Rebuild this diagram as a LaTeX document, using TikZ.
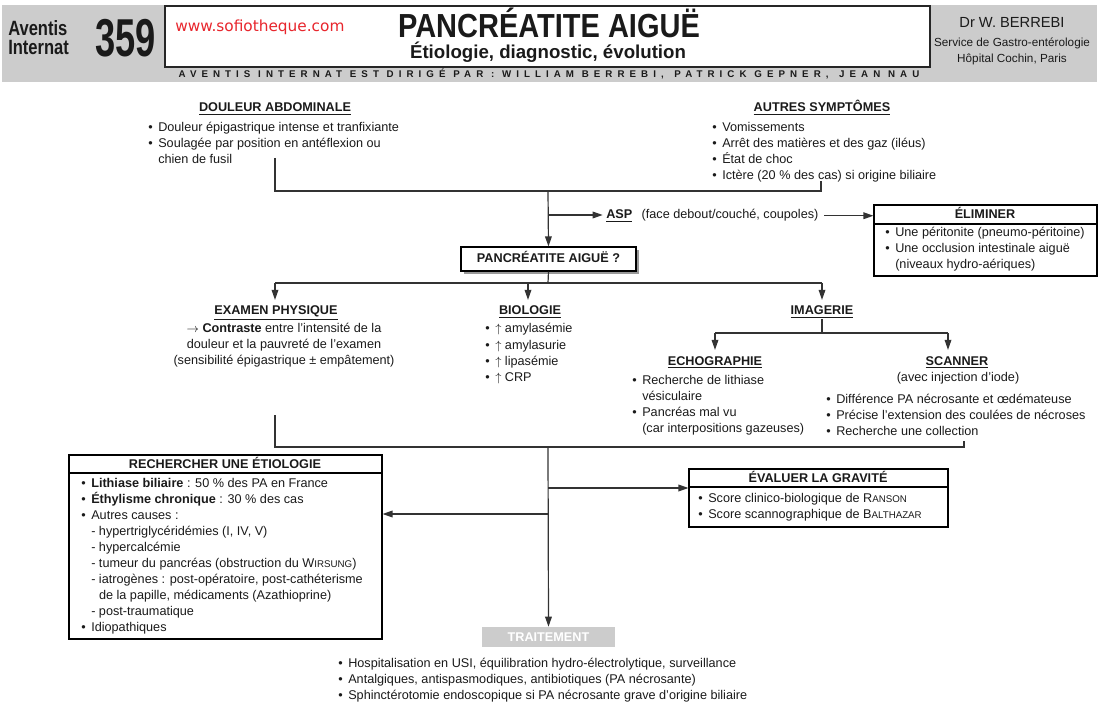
\documentclass[tikz,border=0pt]{standalone}
\usepackage{fontspec}
\setmainfont{Liberation Sans}
\newfontfamily\wwwfont{DejaVu Sans}
\newfontfamily\stripfont[LetterSpace=52]{Liberation Sans}
\usetikzlibrary{arrows.meta,fit,shadows}
\definecolor{hdr}{HTML}{CCCCCC}
\definecolor{ln}{HTML}{333333}
\definecolor{txt}{HTML}{1A1A1A}
\definecolor{wred}{HTML}{E8262D}
\newcommand\bl{\makebox[7.5pt][l]{•}}
\newcommand\ind{\hspace*{7.5pt}}
\newcommand\fsc[2]{#1{\fontsize{7.3}{12}\selectfont #2}}
\begin{document}
\begin{tikzpicture}[x=0.75pt,y=-0.75pt,
  font=\fontsize{9.5}{12}\selectfont,
  every node/.style={inner sep=0pt,text=txt},
  line/.style={draw=ln,line width=0.9pt},
  arr/.style={line,-{Triangle[length=7.5pt,width=5pt]}},
  box/.style={draw=black,line width=0.8pt,inner sep=0pt},
  lst/.style={anchor=base west,align=left},
  hdg/.style={anchor=base,font=\fontsize{9.5}{12}\selectfont\bfseries}]
\useasboundingbox (0,0) rectangle (1103,709);
% ---------- header ----------
\fill[hdr] (2,5) rectangle (1097,82);
\node[fit={(165,6) (930,67)},draw=black!85,fill=white,line width=0.8pt] (titlebox) {};
\node[anchor=base west] (av1) at (8,36) {\scalebox{0.8}[1]{\fontsize{15.5}{16}\selectfont\bfseries Aventis}};
\node[anchor=base west] (av2) at (8,55) {\scalebox{0.8}[1]{\fontsize{15.5}{16}\selectfont\bfseries Internat}};
\node[anchor=base west] (num) at (95,57) {\scalebox{0.68}[1]{\fontsize{40}{40}\selectfont\bfseries 359}};
\node[anchor=base west,text=wred] (www) at (175,32) {\wwwfont\fontsize{11.5}{12}\selectfont www.sofiotheque.com};
\node[anchor=base] (title) at (549,38) {\scalebox{0.87}[1]{\fontsize{25}{25}\selectfont\bfseries PANCRÉATITE AIGUË}};
\node[anchor=base] (sub) at (548,59) {\fontsize{14}{14}\selectfont\bfseries Étiologie, diagnostic, évolution};
\node[anchor=base] (strip) at (549,78) {\stripfont\bfseries\fontsize{7.3}{8}\selectfont AVENTIS INTERNAT EST DIRIGÉ PAR : WILLIAM BERREBI,\hspace{8pt}PATRICK GEPNER,\hspace{8pt}JEAN NAU};
\node[anchor=base] (dr) at (1012,28) {\fontsize{11}{12}\selectfont Dr W. BERREBI};
\node[anchor=base] (svc) at (1012,47) {\fontsize{8.8}{10}\selectfont Service de Gastro-entérologie};
\node[anchor=base] (hop) at (1012,63) {\fontsize{8.8}{10}\selectfont Hôpital Cochin, Paris};
% ---------- top ----------
\node[hdg] (dolh) at (275,112) {\underline{DOULEUR ABDOMINALE}};
\node[lst] (dolt) at (148,164) {\bl Douleur épigastrique intense et tranfixiante\\ \bl Soulagée par position en antéflexion ou\\ \ind chien de fusil};
\node[hdg] (auth) at (822,112) {\underline{AUTRES SYMPTÔMES}};
\node[lst] (autt) at (712,180) {\bl Vomissements\\ \bl Arrêt des matières et des gaz (iléus)\\ \bl État de choc\\ \bl Ictère (20 \% des cas) si origine biliaire};
\coordinate (c1) at (275,158);
\coordinate (c2) at (275,191);
\coordinate (c3) at (821,191);
\coordinate (c4) at (821,181);
\coordinate (cm) at (548,191);
\coordinate (ca) at (548,215);
\draw[line] (c1) -- (c2) -- (c3) -- (c4);
\node[box,fit={(461,247) (636,271)},fill=white,drop shadow={shadow xshift=2.5pt,shadow yshift=-2.5pt,fill=black!40,opacity=1}] (pa) {};
\node[hdg] (pat) at (548.5,263) {PANCRÉATITE AIGUË ?};
\draw[arr] (cm) -- (pa.north);
\node[anchor=base west] (asp) at (606,219) {\textbf{\underline{ASP}}\hspace{7pt}(face debout/couché, coupoles)};
\path (ca -| asp.west) coordinate (aspin);
\draw[arr] (ca) -- ([xshift=-2.5pt]aspin);
\node[box,fit={(874,205) (1097,276)}] (elim) {};
\draw[black,line width=0.8pt] (874,224) -- (1097,224);
\node[hdg] (elimh) at (985,219) {ÉLIMINER};
\node[lst] (elimt) at (885,269) {\bl Une péritonite (pneumo-péritoine)\\ \bl Une occlusion intestinale aiguë\\ \ind (niveaux hydro-aériques)};
\path (asp.east -| elim.west) coordinate (elimin);
\draw[arr] ([xshift=4pt]asp.east) -- (elimin);
% ---------- middle ----------
\coordinate (cb) at (548,283);
\coordinate (cl) at (275,283);
\coordinate (cr) at (822,283);
\coordinate (cbio) at (528,283);
\draw[line] (pa.south) -- (cb);
\draw[line] (cl) -- (cr);
\node[hdg] (exh) at (276,315) {\underline{EXAMEN PHYSIQUE}};
\node[anchor=base,align=center] (ext) at (284,364) {$\rightarrow$ \textbf{Contraste} entre l’intensité de la\\ douleur et la pauvreté de l’examen\\ (sensibilité épigastrique ± empâtement)};
\node[hdg] (bioh) at (530,315) {\underline{BIOLOGIE}};
\node[lst] (biot) at (485,381) {\bl$\uparrow$ amylasémie\\ \bl$\uparrow$ amylasurie\\ \bl$\uparrow$ lipasémie\\ \bl$\uparrow$ CRP};
\node[hdg] (imh) at (822,315) {\underline{IMAGERIE}};
\draw[arr,shorten >=4.5pt] (cl) -- (cl |- exh.north);
\draw[arr,shorten >=4.5pt] (cbio) -- (cbio |- bioh.north);
\draw[arr,shorten >=4.5pt] (cr) -- (cr |- imh.north);
\coordinate (ci) at (822,333);
\coordinate (cil) at (715,333);
\coordinate (cir) at (948,333);
\draw[line] ([yshift=-1pt]imh.south) -- (ci);
\draw[line] (cil) -- (cir);
\node[hdg] (echh) at (715,365) {\underline{ECHOGRAPHIE}};
\node[lst] (echt) at (632,432) {\bl Recherche de lithiase\\ \ind vésiculaire\\ \bl Pancréas mal vu\\ \ind (car interpositions gazeuses)};
\node[hdg] (scanh) at (957,365) {\underline{SCANNER}};
\node[anchor=base] (scans) at (958,381) {(avec injection d’iode)};
\node[lst] (scant) at (826,435) {\bl Différence PA nécrosante et œdémateuse\\ \bl Précise l’extension des coulées de nécroses\\ \bl Recherche une collection};
\draw[arr,shorten >=4.5pt] (cil) -- (cil |- echh.north);
\draw[arr,shorten >=4.5pt] (cir) -- (cir |- scanh.north);
% ---------- bottom ----------
\coordinate (d1) at (275,415);
\coordinate (d2) at (275,447);
\coordinate (d3) at (964,447);
\coordinate (d4) at (964,441);
\coordinate (dm) at (548,447);
\coordinate (e1) at (548,488);
\coordinate (e2) at (548,514);
\draw[line] (d1) -- (d2) -- (d3) -- (d4);
\node[box,fit={(69,455) (382,639)}] (etio) {};
\draw[black,line width=0.8pt] (69,473) -- (382,473);
\node[hdg] (etioh) at (225,468) {RECHERCHER UNE ÉTIOLOGIE};
\node[lst] (etiot) at (81,631) {\bl\textbf{Lithiase biliaire} : 50 \% des PA en France\\
\bl\textbf{Éthylisme chronique} : 30 \% des cas\\
\bl Autres causes :\\
\ind - hypertriglycéridémies (I, IV, V)\\
\ind - hypercalcémie\\
\ind - tumeur du pancréas (obstruction du \fsc{W}{IRSUNG})\\
\ind - iatrogènes : post-opératoire, post-cathéterisme\\
\ind\hphantom{- }de la papille, médicaments (Azathioprine)\\
\ind - post-traumatique\\
\bl Idiopathiques};
\node[box,fit={(689,469) (948,527)}] (eval) {};
\draw[black,line width=0.8pt] (689,487) -- (948,487);
\node[hdg] (evalh) at (818,482) {ÉVALUER LA GRAVITÉ};
\node[lst] (evalt) at (698,518) {\bl Score clinico-biologique de \fsc{R}{ANSON}\\ \bl Score scannographique de \fsc{B}{ALTHAZAR}};
\node[fill=hdr,minimum width=133*0.75pt,minimum height=20*0.75pt,text=white,font=\fontsize{9.5}{12}\selectfont\bfseries] (trait) at (548.5,637) {TRAITEMENT};
\node[lst] (traitt) at (338,699) {\bl Hospitalisation en USI, équilibration hydro-électrolytique, surveillance\\ \bl Antalgiques, antispasmodiques, antibiotiques (PA nécrosante)\\ \bl Sphinctérotomie endoscopique si PA nécrosante grave d’origine biliaire};
\draw[arr] (dm) -- (trait.north);
\draw[arr] (e1) -- (e1 -| eval.west);
\draw[arr] (e2) -- (e2 -| etio.east);
\end{tikzpicture}
\end{document}
